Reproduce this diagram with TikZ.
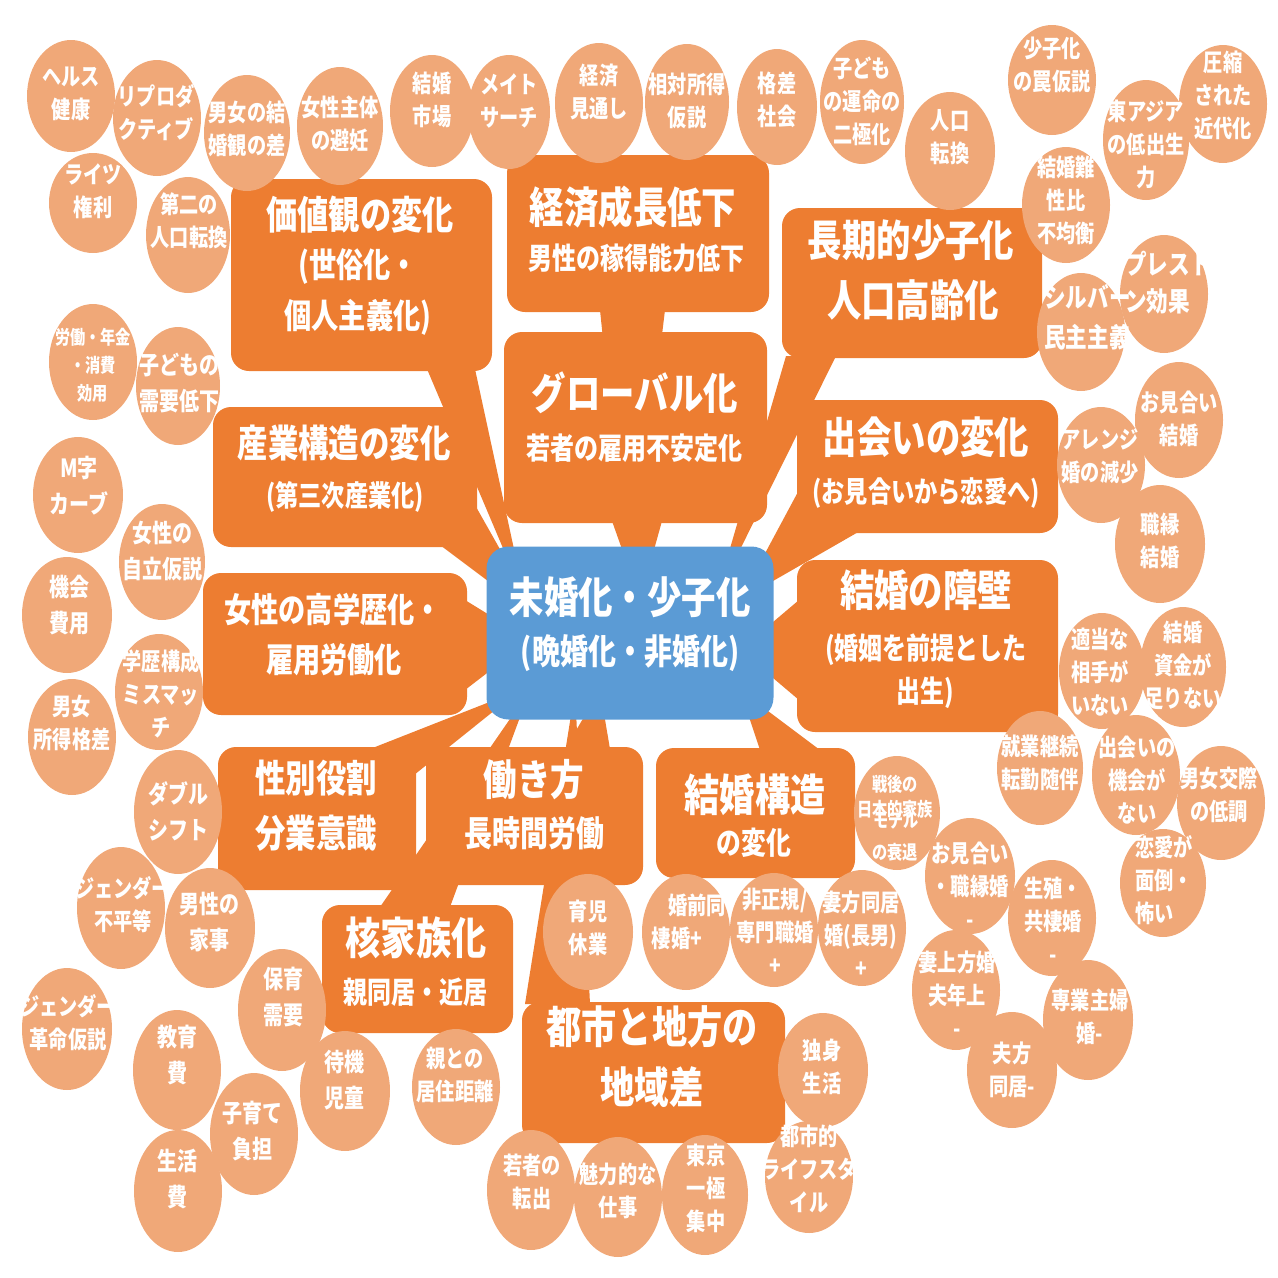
\documentclass[tikz,border=0pt]{standalone}
\usepackage{fontspec}
\setmainfont{Noto Sans CJK JP}[FakeStretch=0.8]
\usetikzlibrary{shapes.geometric}
\pgfdeclarelayer{background}
\pgfdeclarelayer{fg}
\pgfsetlayers{background,main,fg}
\definecolor{dor}{HTML}{ED7D31}
\definecolor{lor}{HTML}{F0A878}
\definecolor{blu}{HTML}{5B9BD5}
\tikzset{
 obox/.style={rectangle, rounded corners=18pt, fill=dor, inner sep=0, outer sep=0},
 cbox/.style={rectangle, rounded corners=22pt, fill=blu, inner sep=0, outer sep=0},
 bubshape/.style={ellipse, fill=lor, inner sep=0, outer sep=0},
 bubtext/.style={text=white, align=center, inner sep=0, font=\bfseries\fontsize{24}{33}\selectfont},
 smallb/.style={font=\bfseries\fontsize{19}{28}\selectfont},
 bigb/.style={font=\bfseries\fontsize{25}{36}\selectfont},
 tl/.style={text=white, inner sep=0, font=\bfseries\fontsize{#1}{#1}\selectfont},
 tailfill/.style={fill=dor},
}
\newcommand\bub[7][]{%
  \node[bubshape, minimum width=#4*2, minimum height=#5*2] (#2) at (#3) {};
  \begin{pgfonlayer}{fg}\node[bubtext,#1] (#2t) at (#6) {#7};\end{pgfonlayer}%
}
\newcommand\obx[4]{\node[obox, minimum width=#3, minimum height=#4] (#1) at (#2) {};}
\begin{document}
\begin{tikzpicture}[x=1pt,y=-1pt]
\useasboundingbox (0,0) rectangle (1278,1278);
% orange boxes
\obx{v}{361.5,275}{261}{192}
\obx{e}{638,233.5}{262}{157}
\obx{l}{912,283}{260}{150}
\obx{g}{635.5,427.5}{263}{191}
\obx{d}{927.5,466.5}{261}{133}
\obx{m}{927.5,646}{261}{172}
\obx{s}{345,477}{264}{140}
\obx{w}{335,644}{264}{142}
\obx{r}{317,818.5}{198}{143}
\obx{h}{534.5,816}{217}{138}
\obx{k}{755.5,813}{199}{130}
\obx{n}{417.5,969}{191}{128}
\obx{u}{653.5,1072.5}{263}{141}
\node[cbox, minimum width=287, minimum height=173] (c) at (630,633) {};
% tails
\begin{pgfonlayer}{background}
\fill[tailfill] ([shift={(196,-2)}]v.south west) -- ([shift={(244,-2)}]v.south west) -- ([shift={(-105,-33)}]c.center) -- cycle;
\fill[tailfill] ([shift={(93,-2)}]e.south west) -- ([shift={(158,-2)}]e.south west) -- ([shift={(0,-33)}]c.center) -- cycle;
\fill[tailfill] ([shift={(4,-2)}]l.south west) -- ([shift={(54,-2)}]l.south west) -- ([shift={(85,-33)}]c.center) -- cycle;
\fill[tailfill] ([shift={(108,-2)}]g.south west) -- ([shift={(158,-2)}]g.south west) -- ([shift={(10,-33)}]c.center) -- cycle;
\fill[tailfill] ([shift={(2,-43)}]d.south west) -- ([shift={(63,-2)}]d.south west) -- ([shift={(110,-33)}]c.center) -- cycle;
\fill[tailfill] ([shift={(2,-46)}]m.west) -- ([shift={(2,54)}]m.west) -- ([shift={(110,17)}]c.center) -- cycle;
\fill[tailfill] ([shift={(-37,-2)}]s.south east) -- ([shift={(-2,-42)}]s.south east) -- ([shift={(-90,-13)}]c.center) -- cycle;
\fill[tailfill] ([shift={(-2,-44)}]w.east) -- ([shift={(-2,46)}]w.east) -- ([shift={(-100,7)}]c.center) -- cycle;
\fill[tailfill] ([shift={(-46,2)}]r.north east) -- ([shift={(-2,28)}]r.north east) -- ([shift={(-110,57)}]c.center) -- cycle;
\fill[tailfill] ([shift={(139,2)}]h.north west) -- ([shift={(184,2)}]h.north west) -- ([shift={(-30,57)}]c.center) -- cycle;
\fill[tailfill] ([shift={(104,2)}]k.north west) -- ([shift={(164,2)}]k.north west) -- ([shift={(110,57)}]c.center) -- cycle;
\fill[tailfill] ([shift={(58,2)}]n.north west) -- ([shift={(128,2)}]n.north west) -- ([shift={(-100,57)}]c.center) -- cycle;
\fill[tailfill] ([shift={(3,2)}]u.north west) -- ([shift={(68,2)}]u.north west) -- ([shift={(-55,57)}]c.center) -- cycle;
\end{pgfonlayer}
% box texts
\begin{pgfonlayer}{fg}
\node[tl=39] (v1) at (360,215) {価値観の変化};
\node[tl=34] (v2) at (358,267) {(世俗化・};
\node[tl=34] (v3) at (358,317) {個人主義化)};
\node[tl=43] (e1) at (633,207) {経済成長低下};
\node[tl=30] (e2) at (636,258) {男性の稼得能力低下};
\node[tl=43] (l1) at (911,240) {長期的少子化};
\node[tl=43] (l2) at (913,300) {人口高齢化};
\node[tl=43] (g1) at (635,393) {グローバル化};
\node[tl=30] (g2) at (634,448) {若者の雇用不安定化};
\node[tl=43] (d1) at (926,437) {出会いの変化};
\node[tl=29] (d2) at (926,493) {(お見合いから恋愛へ)};
\node[tl=43] (m1) at (926,590) {結婚の障壁};
\node[tl=30] (m2) at (926,650) {(婚姻を前提とした};
\node[tl=30] (m3) at (925,693) {出生)};
\node[tl=38] (s1) at (344,443) {産業構造の変化};
\node[tl=29] (s2) at (345,497) {(第三次産業化)};
\node[tl=34] (w1) at (333,610) {女性の高学歴化・};
\node[tl=34] (w2) at (334,660) {雇用労働化};
\node[tl=38] (r1) at (316,778) {性別役割};
\node[tl=38] (r2) at (316,833) {分業意識};
\node[tl=42] (h1) at (534,780) {働き方};
\node[tl=35] (h2) at (534,833) {長時間労働};
\node[tl=44] (k1) at (755,795) {結婚構造};
\node[tl=31] (k2) at (754,843) {の変化};
\node[tl=44] (n1) at (416,938) {核家族化};
\node[tl=30] (n2) at (415,992) {親同居・近居};
\node[tl=44] (u1) at (652,1027) {都市と地方の};
\node[tl=43] (u2) at (652,1087) {地域差};
\node[tl=43] (cc1) at (630,597) {未婚化・少子化};
\node[tl=35] (cc2) at (630,653) {(晩婚化・非婚化)};
\end{pgfonlayer}
% bubbles
\bub{c1}{71,96}{44}{56}{71,94}{ヘルス\\健康}
\bub{c2}{157,118}{44}{58}{156,113}{リプロダ\\クティブ}
\bub{c3}{93,203}{44}{50}{93,191}{ライツ\\権利}
\bub{c4}{188,235}{42}{58}{189,221}{第二の\\人口転換}
\bub{c5}{247,133}{43}{58}{247,129}{男女の結\\婚観の差}
\bub{c6}{340,126}{43}{59}{340,124}{女性主体\\の避妊}
\bub{c7}{432,111}{42}{56}{432,100}{結婚\\市場}
\bub{c8}{509,112}{41}{57}{509,101}{メイト\\サーチ}
\bub{c9}{599,103}{44}{60}{599,92}{経済\\見通し}
\bub{c10}{687,102}{42}{58}{687,101}{相対所得\\仮説}
\bub{c11}{777,107}{40}{58}{777,100}{格差\\社会}
\bub{c12}{862,102}{42}{62}{862,101}{子ども\\の運命の\\二極化}
\bub{c13}{950,151}{45}{59}{950,137}{人口\\転換}
\bub{c14}{1052,80}{44}{55}{1052,65}{少子化\\の罠仮説}
\bub{c15}{1223,104}{44}{59}{1223,95}{圧縮\\された\\近代化}
\bub{c16}{1146,140}{43}{60}{1146,144}{東アジア\\の低出生\\力}
\bub{c17}{1066,205}{44}{58}{1066,200}{結婚難\\性比\\不均衡}
\bub[align=left,anchor=west,font=\bfseries\fontsize{27}{37}\selectfont]{c18}{1164,294}{44}{59}{1125,283}{プレスト\\ン効果}
\bub[align=left,anchor=west,font=\bfseries\fontsize{27}{40}\selectfont]{c19}{1081,332}{44}{59}{1044,317}{シルバー\\民主主義}
\bub{c20}{1179,420}{44}{58}{1179,419}{お見合い\\結婚}
\bub{c21}{1101,465}{44}{58}{1100,456}{アレンジ\\婚の減少}
\bub{c22}{1160,544}{45}{59}{1160,541}{職縁\\結婚}
\bub{c23}{1102,671}{43}{58}{1100,672}{適当な\\相手が\\いない}
\bub{c24}{1183,667}{43}{60}{1183,665}{結婚\\資金が\\足りない}
\bub{c25}{1040,768}{43}{57}{1040,763}{就業継続\\転勤随伴}
\bub{c26}{1136,775}{44}{60}{1137,780}{出会いの\\機会が\\ない}
\bub{c27}{1221,803}{44}{57}{1219,795}{男女交際\\の低調}
\bub[align=left,anchor=west]{c28}{1163,883}{43}{54}{1135,880}{恋愛が\\面倒・\\怖い}
\bub[font=\bfseries\fontsize{19}{25}\selectfont]{c29}{897,813}{43}{57}{895,797}{戦後の\\日本的家族}
\bub{c30}{970,876}{45}{58}{970,885}{お見合い\\・職縁婚\\-}
\bub{c31}{1052,918}{44}{58}{1053,920}{生殖・\\共棲婚\\-}
\bub{c32}{956,990}{44}{60}{957,994}{妻上方婚\\夫年上\\-}
\bub{c33}{1088,1020}{45}{60}{1090,1017}{専業主婦\\婚-}
\bub{c34}{1012,1070}{45}{58}{1012,1070}{夫方\\同居-}
\bub{c35}{588,932}{45}{58}{588,928}{育児\\休業}
\bub{c36}{686,932}{44}{58}{697,905}{婚前同}
\bub{c37}{774,930}{44}{57}{775,931}{非正規/\\専門職婚\\+}
\bub{c38}{862,928}{44}{58}{861,934}{妻方同居\\婚(長男)\\+}
\bub{c39}{456,1087}{44}{58}{455,1075}{親との\\居住距離}
\bub{c40}{823,1070}{45}{57}{822,1067}{独身\\生活}
\bub{c41}{809,1177}{44}{56}{809,1169}{都市的\\ライフスタ\\イル}
\bub{c42}{531,1190}{44}{60}{532,1182}{若者の\\転出}
\bub{c43}{618,1197}{44}{60}{618,1191}{魅力的な\\仕事}
\bub{c44}{705,1195}{43}{60}{706,1188}{東京\\一極\\集中}
\bub[smallb]{c45}{93,362}{44}{58}{93,365}{労働・年金\\・消費\\効用}
\bub[bigb]{c46}{178,386}{42}{59}{179,383}{子どもの\\需要低下}
\bub[bigb]{c47}{78,495}{45}{58}{79,486}{M字\\カーブ}
\bub[bigb]{c48}{162,562}{43}{58}{162,551}{女性の\\自立仮説}
\bub[bigb]{c49}{67,615}{45}{58}{69,605}{機会\\費用}
\bub{c50}{159,692}{44}{58}{161,694}{学歴構成\\ミスマッ\\チ}
\bub{c51}{72,737}{44}{58}{72,723}{男女\\所得格差}
\bub[bigb]{c52}{178,812}{44}{62}{178,811}{ダブル\\シフト}
\bub{c53}{121,908}{44}{61}{123,905}{ジェンダー\\不平等}
\bub[bigb]{c54}{210,928}{45}{60}{209,922}{男性の\\家事}
\bub{c55}{67,1029}{45}{61}{68,1023}{ジェンダー\\革命仮説}
\bub[bigb]{c56}{282,1010}{44}{61}{283,997}{保育\\需要}
\bub[bigb]{c57}{177,1070}{44}{60}{177,1055}{教育\\費}
\bub[bigb]{c58}{254,1134}{44}{61}{252,1131}{子育て\\負担}
\bub[bigb]{c59}{345,1091}{45}{60}{344,1080}{待機\\児童}
\bub[bigb]{c60}{178,1191}{44}{61}{177,1179}{生活\\費}
% extra text lines and marks
\begin{pgfonlayer}{fg}
\node[bubtext, smallb] (c29m) at (896,820) {モデル};
\node[bubtext, smallb] (c29n) at (895,852) {の衰退};
\node[bubtext] (c36b) at (677,938) {棲婚+};
\fill[white] (112,131) -- (112,141) -- (106,136) -- cycle;
\fill[white] (1173,812) -- (1173,821) -- (1165,821) -- cycle;
\end{pgfonlayer}
\end{tikzpicture}
\end{document}
